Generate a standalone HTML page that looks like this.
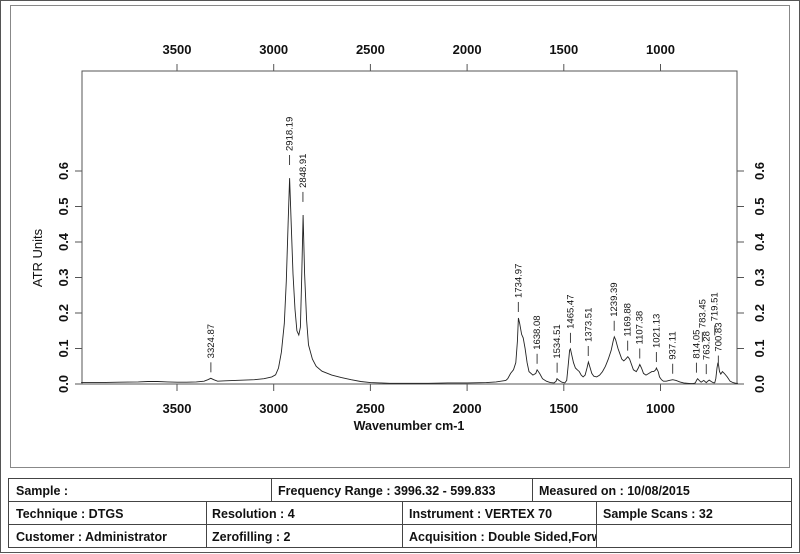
<!DOCTYPE html>
<html><head><meta charset="utf-8">
<style>
body{margin:0;background:#fff;}
svg{display:block;font-family:"Liberation Sans",Arial,sans-serif;}
</style></head>
<body>
<svg id="chart" width="800" height="554" viewBox="0 0 800 554" xmlns="http://www.w3.org/2000/svg">
<rect x="0.5" y="0.5" width="799" height="552" fill="#fff" stroke="#555" stroke-width="1"/>
<rect x="10.5" y="5.5" width="779" height="462" fill="none" stroke="#888" stroke-width="1"/>
<rect x="82" y="71" width="655" height="313" fill="none" stroke="#555" stroke-width="1"/>
<g id="axes"></g>
<path id="spectrum" fill="none" stroke="#222" stroke-width="0.9"/>
<g id="peaks"></g>
<text x="0" y="0" transform="translate(42,258) rotate(-90)" text-anchor="middle" font-size="13" fill="#111">ATR Units</text>
<text x="409" y="430" text-anchor="middle" font-size="12.5" font-weight="bold" fill="#111">Wavenumber cm-1</text>
<g font-size="12.5" font-weight="bold" fill="#111" stroke="#444">
  <rect x="8.5" y="478.5" width="783" height="69" fill="none" font-weight="normal"/>
  <line x1="8" y1="501.5" x2="792" y2="501.5"/>
  <line x1="8" y1="524.5" x2="792" y2="524.5"/>
  <line x1="271.5" y1="478" x2="271.5" y2="501"/>
  <line x1="532.5" y1="478" x2="532.5" y2="501"/>
  <line x1="206.5" y1="501" x2="206.5" y2="548"/>
  <line x1="402.5" y1="501" x2="402.5" y2="548"/>
  <line x1="596.5" y1="501" x2="596.5" y2="548"/>
  <g stroke="none">
  <text x="16" y="495">Sample :</text>
  <text x="278" y="495">Frequency Range : 3996.32 - 599.833</text>
  <text x="539" y="495">Measured on : 10/08/2015</text>
  <text x="16" y="518">Technique : DTGS</text>
  <text x="212" y="518">Resolution : 4</text>
  <text x="409" y="518">Instrument :  VERTEX 70</text>
  <text x="603" y="518">Sample Scans : 32</text>
  <text x="16" y="541">Customer : Administrator</text>
  <text x="212" y="541">Zerofilling : 2</text>
  <svg x="402" y="525" width="194" height="22"><text x="7" y="16">Acquisition :  Double Sided,Forward-Backward</text></svg>
  </g>
</g>
</svg>
<script>
const xTicks=[3500,3000,2500,2000,1500,1000];
const yTicks=[0.0,0.1,0.2,0.3,0.4,0.5,0.6];
const yTickLabels=["0.0","0.1","0.2","0.3","0.4","0.5","0.6"];
const wavenumbers=[3996,3900,3800,3700,3650,3600,3550,3500,3450,3400,3360,3340,3325,3310,3290,3250,3200,3150,3100,3050,3010,2990,2975,2960,2945,2935,2925,2918,2910,2900,2890,2880,2870,2862,2855,2848,2840,2830,2820,2800,2780,2750,2700,2650,2600,2550,2500,2450,2400,2300,2200,2100,2000,1900,1850,1800,1790,1775,1760,1748,1740,1735,1728,1718,1710,1700,1690,1680,1660,1645,1638,1625,1610,1590,1570,1550,1540,1535,1525,1510,1495,1485,1478,1470,1466,1460,1450,1440,1430,1420,1410,1400,1390,1380,1373,1365,1355,1345,1330,1315,1300,1285,1270,1255,1245,1239,1232,1220,1210,1200,1190,1180,1169,1160,1150,1140,1125,1115,1107,1098,1088,1075,1060,1045,1035,1025,1021,1012,1005,995,985,970,955,937,920,900,880,860,845,830,820,814,808,800,790,783,776,768,763,756,748,738,728,722,719,714,708,703,700,695,688,680,670,655,640,625,610,600];
const absorbance=[0.004,0.004,0.005,0.006,0.007,0.007,0.006,0.005,0.005,0.006,0.008,0.012,0.016,0.012,0.008,0.009,0.010,0.011,0.012,0.015,0.020,0.026,0.045,0.09,0.17,0.29,0.46,0.58,0.46,0.31,0.21,0.15,0.138,0.16,0.30,0.476,0.31,0.18,0.11,0.07,0.05,0.036,0.025,0.018,0.012,0.007,0.004,0.003,0.002,0.002,0.002,0.003,0.003,0.004,0.006,0.010,0.015,0.030,0.040,0.060,0.120,0.186,0.170,0.140,0.130,0.100,0.060,0.035,0.025,0.030,0.040,0.030,0.015,0.008,0.004,0.003,0.008,0.015,0.010,0.005,0.003,0.010,0.050,0.095,0.099,0.085,0.060,0.045,0.040,0.035,0.025,0.020,0.025,0.045,0.062,0.048,0.030,0.022,0.020,0.025,0.035,0.050,0.070,0.095,0.120,0.133,0.125,0.100,0.085,0.070,0.065,0.070,0.077,0.070,0.055,0.040,0.035,0.045,0.055,0.045,0.030,0.025,0.030,0.035,0.035,0.040,0.045,0.035,0.020,0.012,0.008,0.008,0.010,0.012,0.010,0.006,0.003,0.002,0.001,0.001,0.003,0.010,0.015,0.010,0.005,0.008,0.010,0.006,0.004,0.008,0.011,0.007,0.004,0.003,0.004,0.015,0.045,0.060,0.055,0.035,0.028,0.035,0.030,0.020,0.008,0.004,0.002,0.002,0.003,0.006,0.008];
const peakWn=[3324.87,2918.19,2848.91,1734.97,1638.08,1534.51,1465.47,1373.51,1239.39,1169.88,1107.38,1021.13,937.11,814.05,783.45,763.28,719.51,700.83];
const peakAbs=[0.016,0.58,0.476,0.186,0.040,0.015,0.099,0.062,0.133,0.077,0.055,0.045,0.012,0.015,0.011,0.011,0.060,0.035];
const peakLabels=["3324.87","2918.19","2848.91","1734.97","1638.08","1534.51","1465.47","1373.51","1239.39","1169.88","1107.38","1021.13","937.11","814.05","783.45","763.28","719.51","700.83"];
const peakLift=[0,0.02,0.02,0,0,0,0,0,0,0,0,0,0,0,0.09,0,0.06,0];

const NS="http://www.w3.org/2000/svg";
function xs(w){return 177+(3500-w)*0.1934;}
function ys(a){return 384-a*355;}
function mk(tag,attrs,parent){const e=document.createElementNS(NS,tag);for(const k in attrs)e.setAttribute(k,attrs[k]);parent.appendChild(e);return e;}
const axes=document.getElementById('axes');
xTicks.forEach(t=>{
  const x=xs(t);
  const a=mk('line',{x1:x,y1:384,x2:x,y2:391,stroke:'#555'},axes);
  
  
  const b=mk('line',{x1:x,y1:64,x2:x,y2:71,stroke:'#555'},axes);
  
  
  const t1=mk('text',{x:x,y:413,'text-anchor':'middle','font-size':'13','font-weight':'bold',fill:'#111'},axes);t1.textContent=t;
  
  
  const t2=mk('text',{x:x,y:54,'text-anchor':'middle','font-size':'13','font-weight':'bold',fill:'#111'},axes);t2.textContent=t;
  
  
});
yTicks.forEach((v,i)=>{
  const y=ys(v);
  const a=mk('line',{x1:75,y1:y,x2:82,y2:y,stroke:'#555'},axes);
  
  
  const b=mk('line',{x1:737,y1:y,x2:744,y2:y,stroke:'#555'},axes);
  
  
  const t1=mk('text',{x:0,y:0,transform:`translate(68,${y}) rotate(-90)`,'text-anchor':'middle','font-size':'13','font-weight':'bold',fill:'#111'},axes);t1.textContent=yTickLabels[i];
  
  
  const t2=mk('text',{x:0,y:0,transform:`translate(764,${y}) rotate(-90)`,'text-anchor':'middle','font-size':'13','font-weight':'bold',fill:'#111'},axes);t2.textContent=yTickLabels[i];
  
  
});
let d='';
wavenumbers.forEach((w,i)=>{d+=(i?'L':'M')+xs(w).toFixed(1)+','+ys(absorbance[i]).toFixed(1);});
document.getElementById('spectrum').setAttribute('d',d);
const pk=document.getElementById('peaks');
peakWn.forEach((w,i)=>{
  const x=xs(w),y=ys(peakAbs[i]+peakLift[i]);
  const l=mk('line',{x1:x,y1:y-6,x2:x,y2:y-16,stroke:'#444','stroke-width':'1'},pk);
  
  
  const t=mk('text',{x:0,y:0,transform:`translate(${x+3},${y-20}) rotate(-90)`,'font-size':'9.5',fill:'#111'},pk);
  t.textContent=peakLabels[i];
  
  
});
</script>
</body></html>
